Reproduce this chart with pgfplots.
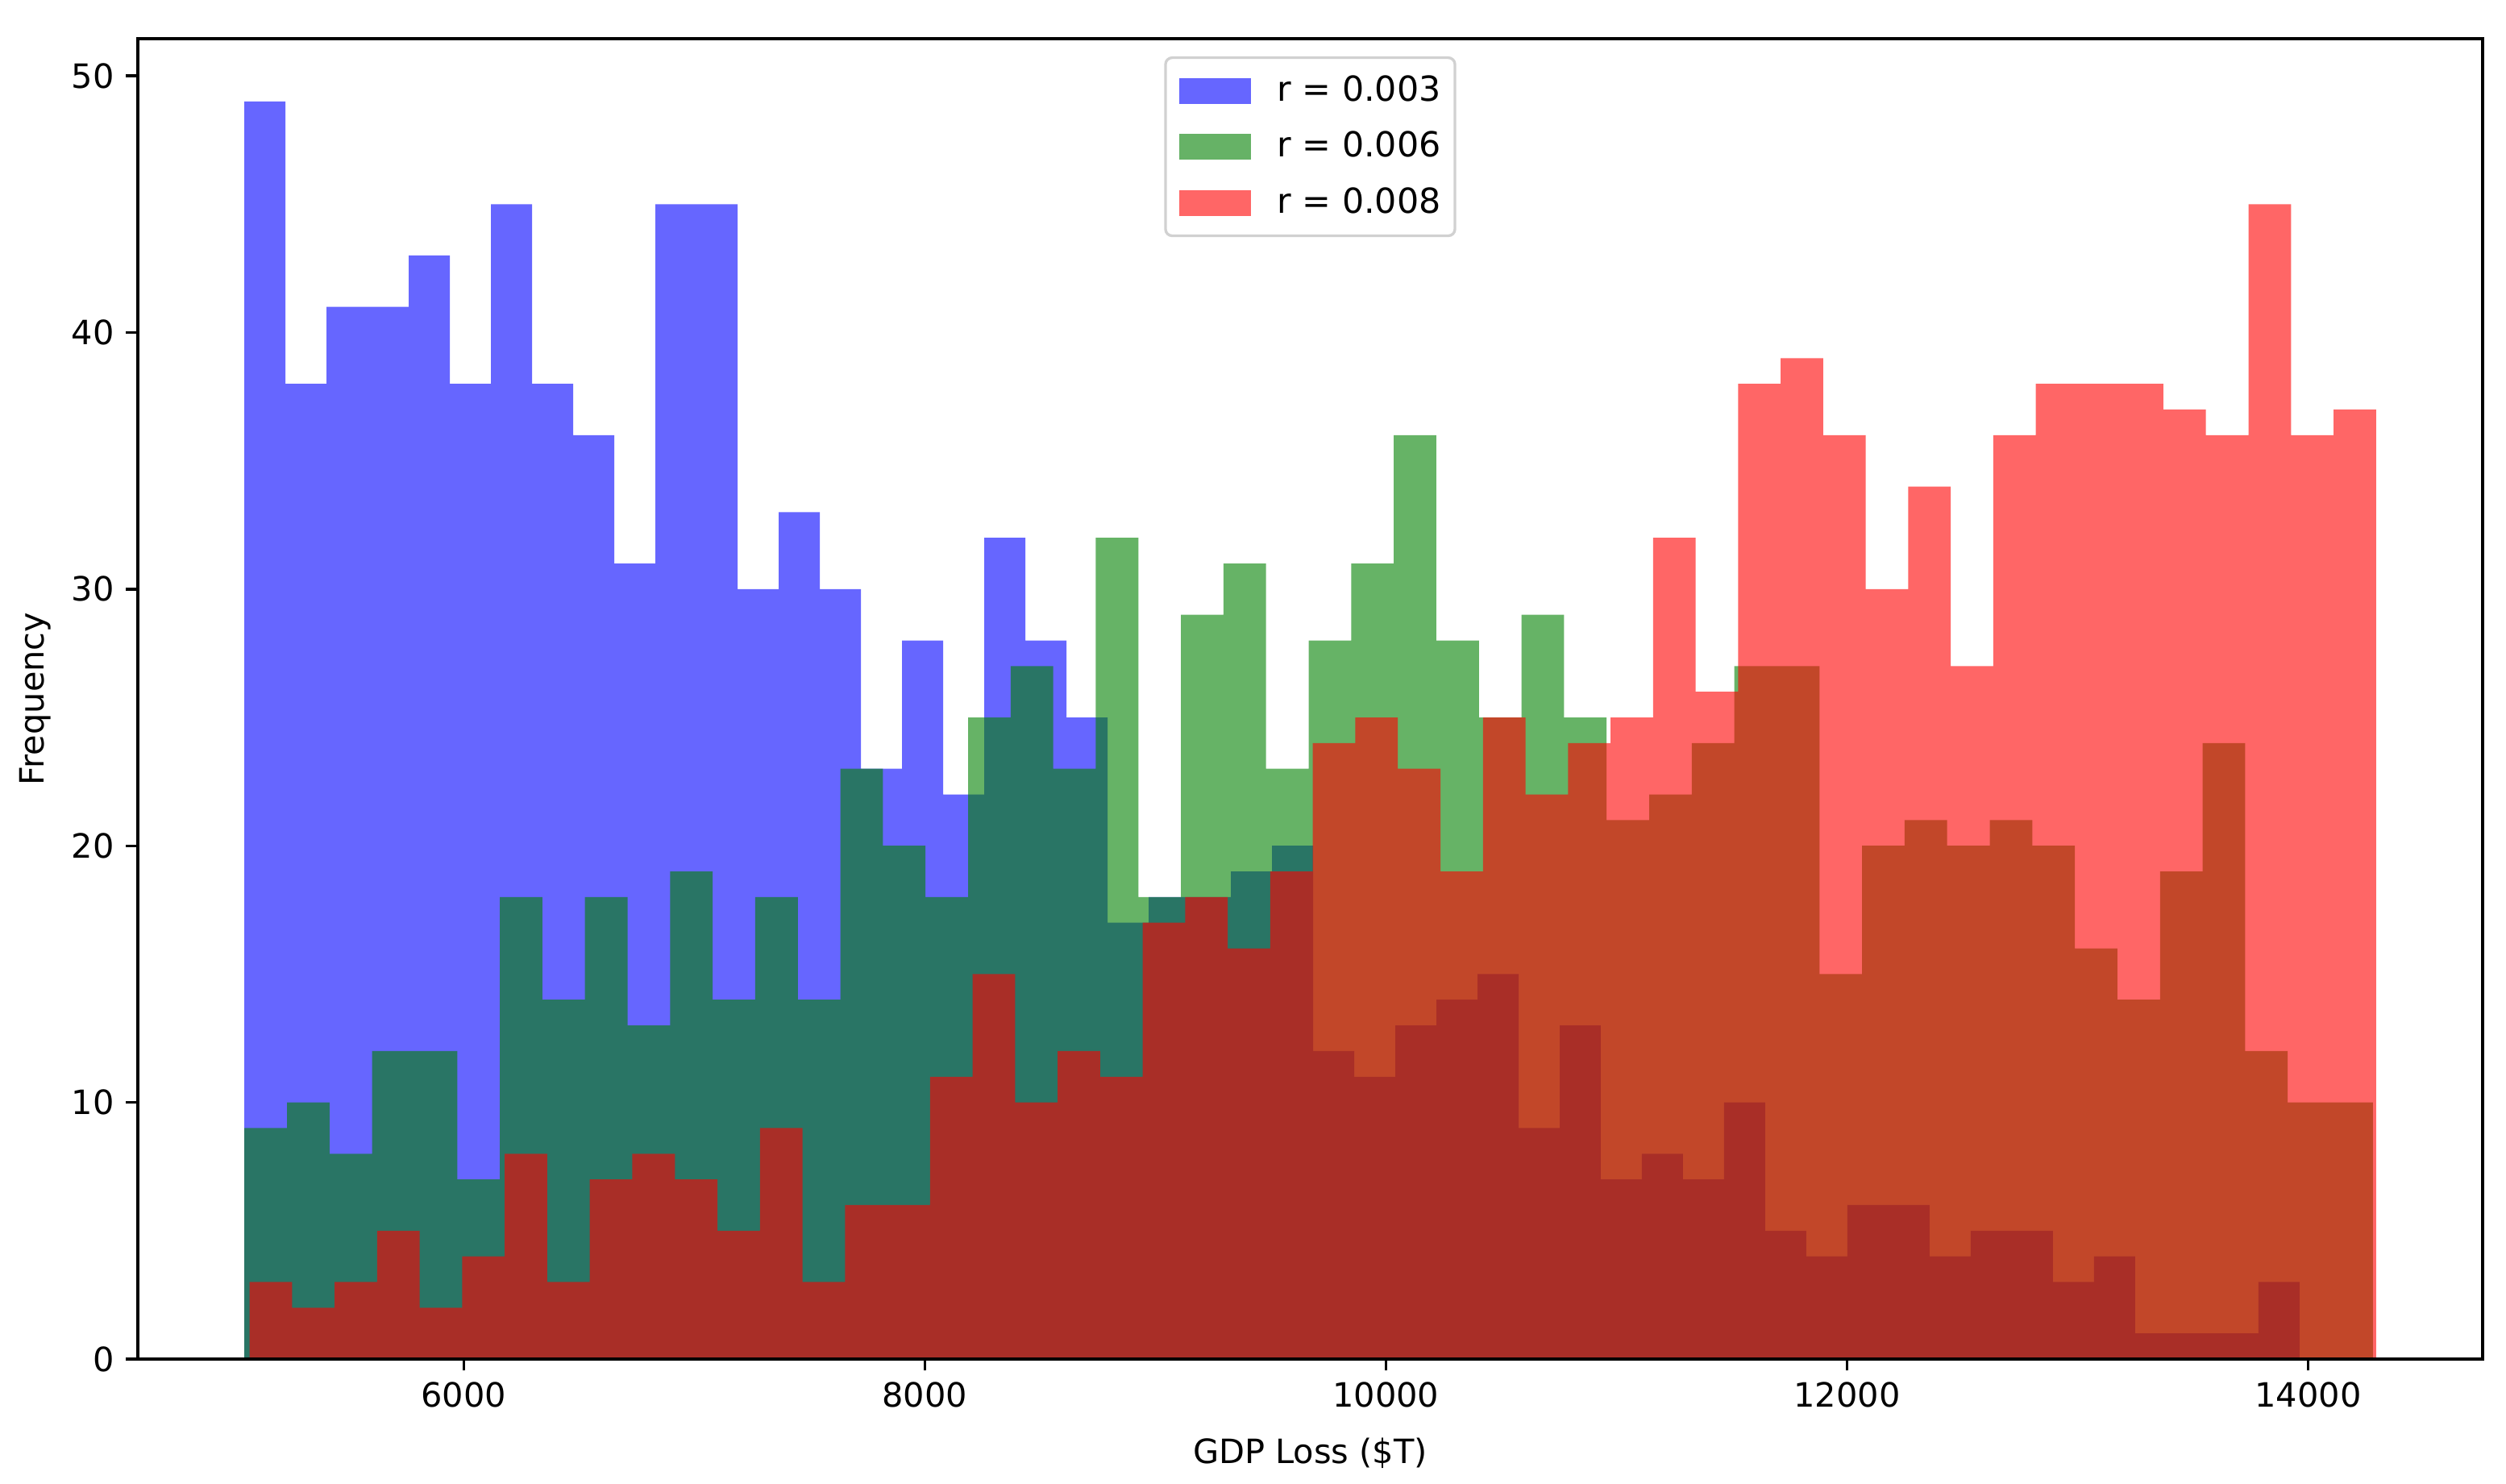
\documentclass[border=0pt]{standalone}
\usepackage{fontspec}
\setmainfont{DejaVu Sans}
\usepackage{pgfplots}
\usepackage{pgfplotstable}
\pgfplotsset{compat=1.18}

\pgfplotstableread{
x y
5048.8 49
5227.1 38
5405.4 41
5583.6 41
5761.9 43
5940.2 38
6118.5 45
6296.8 38
6475.0 36
6653.3 31
6831.6 45
7009.9 45
7188.2 30
7366.4 33
7544.7 30
7723.0 23
7901.3 28
8079.6 22
8257.8 32
8436.1 28
8614.4 25
8792.7 17
8971.0 18
9149.2 18
9327.5 19
9505.8 20
9684.1 12
9862.4 11
10040.6 13
10218.9 14
10397.2 15
10575.5 9
10753.8 13
10932.0 7
11110.3 8
11288.6 7
11466.9 10
11645.2 5
11823.4 4
12001.7 6
12180.0 6
12358.3 4
12536.6 5
12714.8 5
12893.1 3
13071.4 4
13249.7 1
13428.0 1
13606.2 1
13784.5 3
13962.8 3
}\bluedata

\pgfplotstableread{
x y
5048.8 9
5233.4 10
5418.1 8
5602.7 12
5787.4 12
5972.0 7
6156.6 18
6341.3 14
6525.9 18
6710.6 13
6895.2 19
7079.8 14
7264.5 18
7449.1 14
7633.8 23
7818.4 20
8003.0 18
8187.7 25
8372.3 27
8557.0 23
8741.6 32
8926.2 18
9110.9 29
9295.5 31
9480.2 23
9664.8 28
9849.4 31
10034.1 36
10218.7 28
10403.4 25
10588.0 29
10772.6 25
10957.3 21
11141.9 22
11326.6 24
11511.2 27
11695.8 27
11880.5 15
12065.1 20
12249.8 21
12434.4 20
12619.0 21
12803.7 20
12988.3 16
13173.0 14
13357.6 19
13542.2 24
13726.9 12
13911.5 10
14096.2 10
14280.8 10
}\greendata

\pgfplotstableread{
x y
5071.2 3
5255.7 2
5440.1 3
5624.6 5
5809.1 2
5993.6 4
6178.0 8
6362.5 3
6547.0 7
6731.4 8
6915.9 7
7100.4 5
7284.8 9
7469.3 3
7653.8 6
7838.3 6
8022.7 11
8207.2 15
8391.7 10
8576.1 12
8760.6 11
8945.1 17
9129.5 18
9314.0 16
9498.5 19
9683.0 24
9867.4 25
10051.9 23
10236.4 19
10420.8 25
10605.3 22
10789.8 24
10974.2 25
11158.7 32
11343.2 26
11527.7 38
11712.1 39
11896.6 36
12081.1 30
12265.5 34
12450.0 27
12634.5 36
12818.9 38
13003.4 38
13187.9 38
13372.4 37
13556.8 36
13741.3 45
13925.8 36
14110.2 37
14294.7 37
}\reddata

\definecolor{mplgreen}{rgb}{0,0.5,0}

\begin{document}
\begin{tikzpicture}
\path[use as bounding box] (-41.19pt,-37.34pt) rectangle (707.79pt,406.16pt);
\begin{axis}[
  name=ax,
  at={(0,0)}, anchor=south west,
  scale only axis,
  width=700.8pt, height=394.6pt,
  xmin=4586.5, xmax=14757, ymin=0, ymax=51.45,
  xtick={6000,8000,10000,12000,14000},
  ytick={0,10,20,30,40,50},
  scaled x ticks=false, scaled y ticks=false,
  /pgf/number format/assume math mode=true,
  /pgf/number format/1000 sep={},
  tick align=outside,
  xtick pos=bottom, ytick pos=left,
  major tick length=3.5pt,
  tick style={black, line width=0.8pt},
  axis line style={black, line width=0.8pt},
  tick label style={font=\fontsize{10}{12}\selectfont, black},
  label style={font=\fontsize{10}{12}\selectfont},
  xlabel={GDP Loss (\$T)},
  ylabel={Frequency},
  xlabel style={at={(axis description cs:0.5,-0.0788)}, anchor=base},
  ylabel style={at={(axis description cs:-0.0399,0.5)}, anchor=base},
  axis on top,
  legend cell align=left,
  legend image code/.code={\fill[#1, sharp corners] (0pt,-3.85pt) rectangle (21.4pt,3.85pt);},
  legend style={at={(0.5,0.9866)}, anchor=north,
    draw=black!18, line width=0.8pt, rounded corners=2pt,
    font=\fontsize{10.3}{12}\selectfont,
    inner xsep=4.2pt, inner ysep=5.3pt,
    row sep=7.6pt, column sep=7.8pt,
    nodes={inner sep=0pt}},
]
\addplot[fill=blue, fill opacity=0.6, draw=none, const plot] table[x=x,y=y] {\bluedata} \closedcycle;
\addlegendentry{r = 0.003}
\addplot[fill=mplgreen, fill opacity=0.6, draw=none, const plot] table[x=x,y=y] {\greendata} \closedcycle;
\addlegendentry{r = 0.006}
\addplot[fill=red, fill opacity=0.6, draw=none, const plot] table[x=x,y=y] {\reddata} \closedcycle;
\addlegendentry{r = 0.008}
\end{axis}
\end{tikzpicture}
\end{document}
